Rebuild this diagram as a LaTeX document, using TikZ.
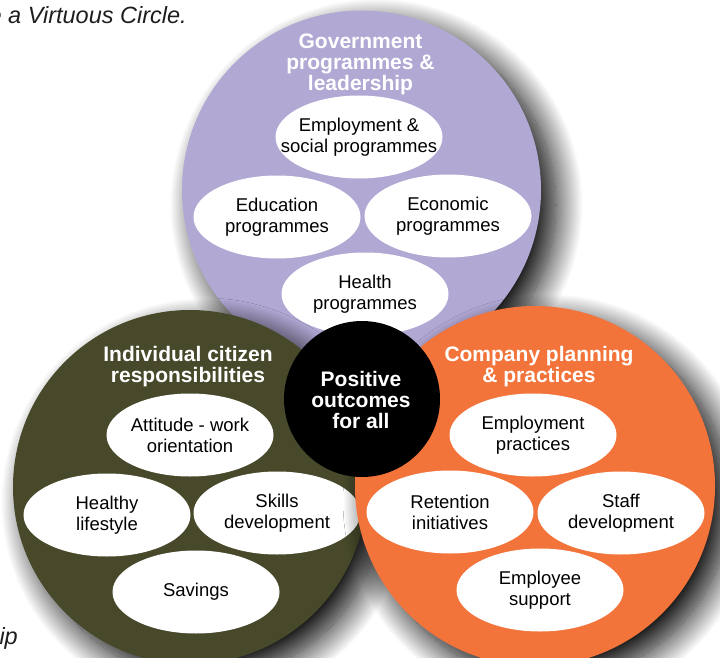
\documentclass[tikz,border=0pt]{standalone}
\usepackage{fontspec}
\setmainfont{Liberation Sans}
\usetikzlibrary{shapes.geometric,shadows.blur}

\definecolor{govpurple}{RGB}{177,168,212}
\definecolor{citolive}{RGB}{71,73,42}
\definecolor{comporange}{RGB}{242,116,58}
\definecolor{captiongray}{RGB}{30,30,30}

\begin{document}
\begin{tikzpicture}[x=1pt,y=-1pt,
  sphere/.style={circle, inner sep=0pt, minimum size=#1},
  shadowed/.style={blur shadow={shadow xshift=15pt, shadow yshift=-15pt,
      shadow blur radius=27pt, shadow blur steps=30, shadow opacity=100}},
  item/.style={ellipse, fill=white, inner xsep=-25pt, inner ysep=0pt,
      minimum width=167pt, minimum height=83pt, align=center,
      font=\fontsize{18.5}{21}\selectfont},
  heading/.style={text=white, align=center, font=\fontsize{21}{21}\bfseries\selectfont},
  caption/.style={text=captiongray, font=\fontsize{23.5}{28}\itshape\selectfont}
]
\useasboundingbox (0,0) rectangle (720,658);

% fragments of the surrounding text
\node[caption, anchor=base west, inner sep=0pt] (virtuous) at (-11.6,24) {e a Virtuous Circle.};
\node[caption, anchor=base east, inner sep=0pt] (tail) at (18,644) {ip};

% government circle
\node[sphere=359pt, fill=govpurple, shadowed] (gov) at (361.5,190) {};
\node[heading] (govtitle) at (360.5,64) {Government\\programmes \&\\leadership};
\node[item] (empsoc) at (359,137) {Employment \&\\social programmes};
\node[item] (edu) at (277,217) {Education\\programmes};
\node[item] (eco) at (448,216) {Economic\\programmes};
\node[item] (health) at (365,294) {Health\\programmes};

% citizen circle
\node[sphere=354pt, fill=citolive, shadowed] (cit) at (190,487) {};
\node[heading] (cittitle) at (188,367) {Individual citizen\\responsibilities};
\node[item] (attitude) at (190,435) {Attitude - work\\orientation};
\node[item] (lifestyle) at (107,515) {Healthy\\lifestyle};
\node[item] (skills) at (277,513) {Skills\\development};
\node[item] (savings) at (196,592) {Savings};

% company circle
\node[sphere=360pt, fill=comporange, shadowed] (comp) at (535,486) {};
\node[heading] (comptitle) at (539,367) {Company planning\\\& practices};
\node[item] (emppract) at (533,435) {Employment\\practices};
\node[item] (retention) at (450,512) {Retention\\initiatives};
\node[item] (staff) at (621,513) {Staff\\development};
\node[item] (support) at (540,590) {Employee\\support};

% shared centre
\node[sphere=156pt, fill=black] (core) at (362,399) {};
\node[heading] (coretitle) at (361,400) {Positive\\outcomes\\for all};
\end{tikzpicture}
\end{document}
